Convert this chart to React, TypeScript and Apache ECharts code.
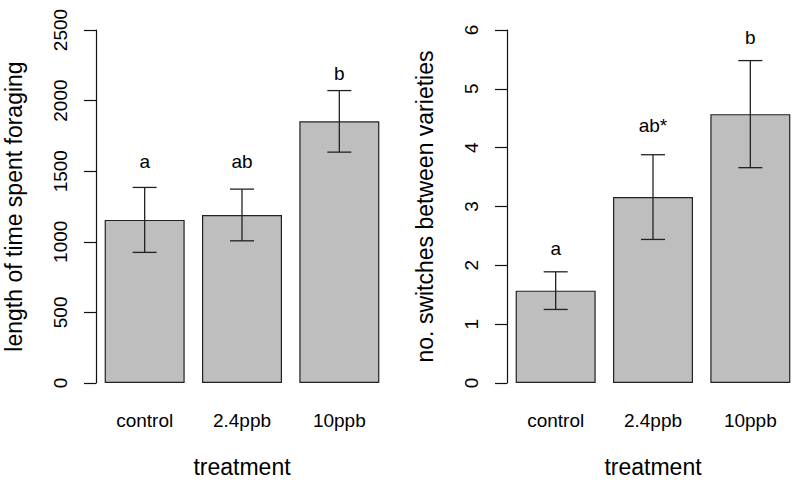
import React, { useEffect, useRef } from "react";
import * as echarts from "echarts";

const categories = ["control", "2.4ppb", "10ppb"];

const foragingMeans = [1155, 1190, 1853];
const foragingErr = [230, 183, 218];
const foragingLetters = ["a", "ab", "b"];
const foragingLetterY = [1569, 1569, 2195];
const foragingTicks = { min: 0, max: 2500, interval: 500 };

const switchMeans = [1.57, 3.16, 4.57];
const switchErr = [0.32, 0.72, 0.91];
const switchLetters = ["a", "ab*", "b"];
const switchLetterY = [2.28, 4.37, 5.87];
const switchTicks = { min: 0, max: 6, interval: 1 };

const yTitles = ["length of time spent foraging", "no. switches between varieties"];
const xTitle = "treatment";

const FONT = "'Liberation Sans', Arial, Helvetica, sans-serif";
const INK = "#000";

export default function App() {
  const ref = useRef<HTMLDivElement>(null);
  useEffect(() => {
    if (!ref.current) return;
    const chart = echarts.init(ref.current, undefined, { renderer: "svg" });

    const grids = [
      { left: 96, top: 30, width: 292, height: 353 },
      { left: 507, top: 30, width: 292, height: 353 },
    ];

    const xAxes = [0, 1].map((i) => ({
      type: "category",
      gridIndex: i,
      data: categories,
      axisLine: { show: false },
      axisTick: { show: false },
      axisLabel: { fontFamily: FONT, fontSize: 19, color: INK, margin: 28 },
      name: xTitle,
      nameLocation: "middle",
      nameGap: 72,
      nameTextStyle: { fontFamily: FONT, fontSize: 23, color: INK },
    }));

    const ticks = [foragingTicks, switchTicks];
    const yAxes = [0, 1].map((i) => ({
      type: "value",
      gridIndex: i,
      min: ticks[i].min,
      max: ticks[i].max,
      interval: ticks[i].interval,
      splitLine: { show: false },
      axisLine: { show: true, lineStyle: { color: "#111", width: 1.2 } },
      axisTick: { show: true, inside: false, length: 12, lineStyle: { color: "#111", width: 1.2 } },
      axisLabel: {
        fontFamily: FONT,
        fontSize: 19,
        color: INK,
        rotate: 90,
        margin: 26,
        formatter: (v: number) => String(v),
      },
      name: yTitles[i],
      nameLocation: "middle",
      nameRotate: 90,
      nameGap: 71,
      nameTextStyle: { fontFamily: FONT, fontSize: 23, color: INK },
    }));

    const means = [foragingMeans, switchMeans];
    const errs = [foragingErr, switchErr];
    const letters = [foragingLetters, switchLetters];
    const letterY = [foragingLetterY, switchLetterY];

    const series: any[] = [];
    [0, 1].forEach((i) => {
      series.push({
        type: "bar",
        xAxisIndex: i,
        yAxisIndex: i,
        data: means[i],
        barWidth: 80,
        itemStyle: { color: "#bebebe", borderColor: "#222", borderWidth: 1.2 },
      });
      series.push({
        type: "custom",
        xAxisIndex: i,
        yAxisIndex: i,
        data: means[i].map((m, k) => [k, m - errs[i][k], m + errs[i][k]]),
        renderItem: (params: any, api: any) => {
          const x = api.value(0);
          const lo = api.coord([x, api.value(1)]);
          const hi = api.coord([x, api.value(2)]);
          const half = 12;
          const style = { stroke: "#222", lineWidth: 1.3 };
          return {
            type: "group",
            children: [
              { type: "line", shape: { x1: lo[0], y1: lo[1], x2: hi[0], y2: hi[1] }, style },
              { type: "line", shape: { x1: hi[0] - half, y1: hi[1], x2: hi[0] + half, y2: hi[1] }, style },
              { type: "line", shape: { x1: lo[0] - half, y1: lo[1], x2: lo[0] + half, y2: lo[1] }, style },
            ],
          };
        },
        z: 5,
      });
      series.push({
        type: "scatter",
        xAxisIndex: i,
        yAxisIndex: i,
        symbolSize: 0,
        itemStyle: { color: "#000", opacity: 1 },
        data: letterY[i].map((y, k) => ({ value: [k, y], name: letters[i][k] })),
        label: {
          show: true,
          position: "inside",
          formatter: (p: any) => p.name,
          fontFamily: FONT,
          fontSize: 19,
          color: INK,
          opacity: 1,
          textBorderWidth: 0,
        },
        z: 6,
      });
    });

    chart.setOption({
      animation: false,
      backgroundColor: "#fff",
      grid: grids,
      xAxis: xAxes,
      yAxis: yAxes,
      series,
    });
    return () => chart.dispose();
  }, []);

  return (
    <div
      ref={ref}
      style={{ position: "fixed", left: 0, top: 0, width: 800, height: 486, background: "#fff" }}
    />
  );
}
